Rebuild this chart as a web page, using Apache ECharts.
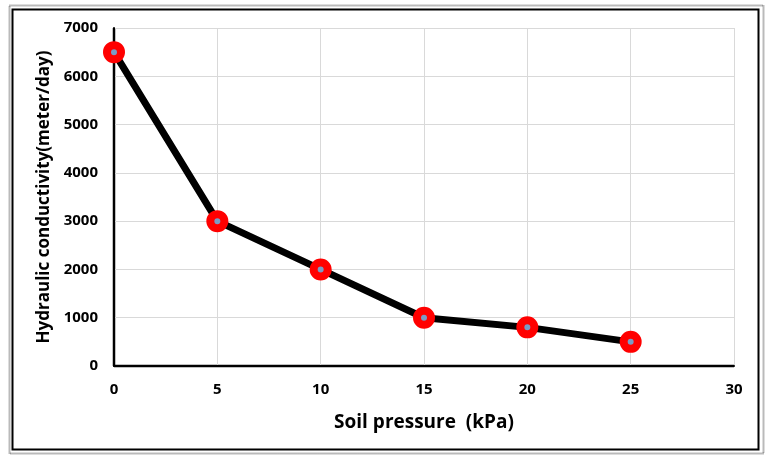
<!DOCTYPE html>
<html><head><meta charset="utf-8">
<script src="https://cdn.jsdelivr.net/npm/echarts@6/dist/echarts.min.js"></script>
<style>html,body{margin:0;padding:0;background:#fff}#c{width:774px;height:459px}</style>
</head><body><div id="c"></div>
<script>
const pressure = [0, 5, 10, 15, 20, 25];
const conductivity = [6500, 3000, 2000, 1000, 800, 500];
const xTitle = 'Soil pressure  (kPa)';
const yTitle = 'Hydraulic conductivity(meter/day)';

const chart = echarts.init(document.getElementById('c'));
const font = '"Open Sans", Lato, sans-serif';
chart.setOption({
  animation: false,
  backgroundColor: '#fff',
  grid: {left: 114, right: 40, top: 28, bottom: 93},
  xAxis: {
    type: 'value', min: 0, max: 30, interval: 5, z: 5,
    name: xTitle, nameLocation: 'middle', nameGap: 47,
    nameTextStyle: {fontFamily: font, fontWeight: 'bold', fontSize: 19, color: '#000'},
    axisLine: {show: true, onZero: false, lineStyle: {color: '#000', width: 2}},
    axisTick: {show: false},
    axisLabel: {fontFamily: font, fontWeight: 'bold', fontSize: 15, color: '#000', margin: 16},
    splitLine: {show: true, showMinLine: false, lineStyle: {color: '#d9d9d9', width: 1}}
  },
  yAxis: {
    type: 'value', min: 0, max: 7000, interval: 1000, z: 5,
    name: yTitle, nameLocation: 'middle', nameGap: 60,
    nameTextStyle: {fontFamily: font, fontWeight: 'bold', fontSize: 17, color: '#000'},
    axisLine: {show: true, onZero: false, lineStyle: {color: '#000', width: 2}},
    axisTick: {show: false},
    axisLabel: {fontFamily: font, fontWeight: 'bold', fontSize: 15, color: '#000', margin: 16, formatter: v => String(v)},
    splitLine: {show: true, showMinLine: false, lineStyle: {color: '#d9d9d9', width: 1}}
  },
  series: [{
    type: 'line',
    data: pressure.map((p, i) => [p, conductivity[i]]),
    lineStyle: {color: '#000', width: 7},
    symbol: 'circle', symbolSize: 14,
    itemStyle: {color: '#7a9cc6', borderColor: '#ff0000', borderWidth: 8},
    z: 6
  }]
});
const o = chart.convertToPixel({gridIndex: 0}, [0, 0]);
const xe = chart.convertToPixel({gridIndex: 0}, [30, 0]);
const ye = chart.convertToPixel({gridIndex: 0}, [0, 7000]);
chart.setOption({
  graphic: [
    {type: 'rect', z: -10, silent: true, shape: {x: 9.5, y: 5.5, width: 754, height: 448}, style: {fill: 'none', stroke: '#777', lineWidth: 2, lineDash: [1, 1]}},
    {type: 'rect', z: -10, silent: true, shape: {x: 12.5, y: 9.5, width: 746, height: 440}, style: {fill: 'none', stroke: '#000', lineWidth: 2}},
    {type: 'line', z: 4, silent: true, shape: {x1: o[0], y1: o[1], x2: xe[0], y2: xe[1]}, style: {stroke: '#000', lineWidth: 2.5}},
    {type: 'line', z: 4, silent: true, shape: {x1: o[0], y1: o[1], x2: ye[0], y2: ye[1]}, style: {stroke: '#000', lineWidth: 2.5}}
  ]
});
</script></body></html>
